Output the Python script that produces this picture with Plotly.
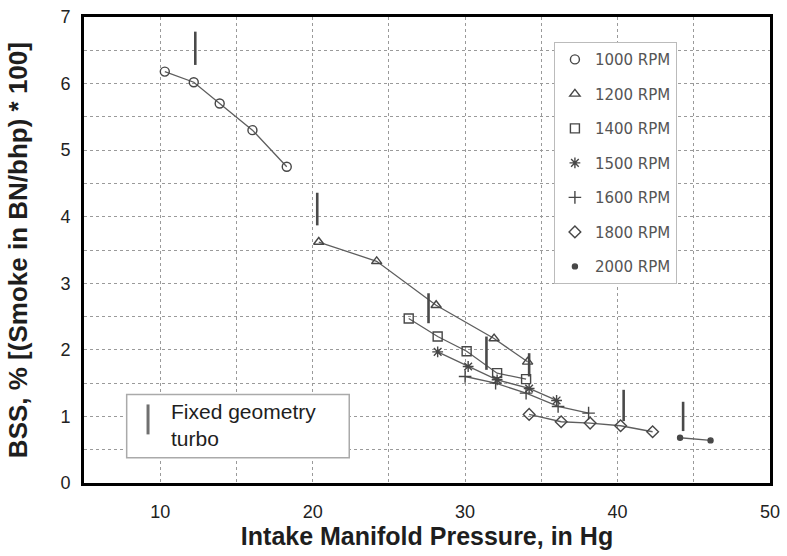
import plotly.graph_objects as go

# Brake specific smoke vs intake manifold pressure, one series per engine speed
rpm_labels = ["1000 RPM", "1200 RPM", "1400 RPM", "1500 RPM", "1600 RPM", "1800 RPM", "2000 RPM"]
symbols = ["circle-open", "triangle-up-open", "square-open", "asterisk-open",
           "cross-thin-open", "diamond-open", "circle"]

imp_1000 = [10.3, 12.2, 13.9, 16.05, 18.3]
bss_1000 = [6.18, 6.02, 5.70, 5.30, 4.75]

imp_1200 = [20.4, 24.2, 28.1, 31.9, 34.1]
bss_1200 = [3.62, 3.33, 2.67, 2.17, 1.82]

imp_1400 = [26.3, 28.2, 30.1, 32.1, 34.0]
bss_1400 = [2.47, 2.20, 1.98, 1.65, 1.56]

imp_1500 = [28.2, 30.2, 32.1, 34.2, 36.0]
bss_1500 = [1.97, 1.75, 1.55, 1.42, 1.24]

imp_1600 = [30.0, 32.0, 34.0, 36.1, 38.1]
bss_1600 = [1.60, 1.50, 1.35, 1.15, 1.05]

imp_1800 = [34.2, 36.3, 38.2, 40.2, 42.3]
bss_1800 = [1.03, 0.92, 0.90, 0.86, 0.77]

imp_2000 = [44.1, 46.1]
bss_2000 = [0.68, 0.64]

# Fixed geometry turbo operating limit markers (x, bottom, top)
turbo_x = [12.3, 20.3, 27.6, 31.4, 34.2, 40.4, 44.3]
turbo_lo = [6.28, 3.87, 2.40, 1.70, 1.60, 0.93, 0.78]
turbo_hi = [6.78, 4.36, 2.85, 2.20, 1.95, 1.40, 1.22]

series_x = [imp_1000, imp_1200, imp_1400, imp_1500, imp_1600, imp_1800, imp_2000]
series_y = [bss_1000, bss_1200, bss_1400, bss_1500, bss_1600, bss_1800, bss_2000]

ink = "#474747"
font_main = "Liberation Sans, Arial"
fig = go.Figure()

# connecting lines (no legend entry)
for xs, ys in zip(series_x, series_y):
    fig.add_trace(go.Scatter(x=xs, y=ys, mode="lines", showlegend=False,
                             line=dict(color="#5e5e5e", width=1.3), hoverinfo="skip"))

# turbo limit bars
bx, by = [], []
for x, lo, hi in zip(turbo_x, turbo_lo, turbo_hi):
    bx += [x, x, None]
    by += [lo, hi, None]
fig.add_trace(go.Scatter(x=bx, y=by, mode="lines", showlegend=False,
                         line=dict(color="#4a4a4a", width=2.6), hoverinfo="skip"))

# markers with legend
for i, (xs, ys) in enumerate(zip(series_x, series_y)):
    size = 5 if symbols[i] == "circle" else 9
    fig.add_trace(go.Scatter(
        x=xs, y=ys, mode="markers", name=rpm_labels[i], legendgroup=rpm_labels[i],
        marker=dict(symbol=symbols[i], size=size, color=ink,
                    line=dict(color=ink, width=1.4)),
    ))

grid = dict(showgrid=True, gridcolor="#9a9a9a", gridwidth=1, griddash="dot",
            zeroline=False, showline=True, linecolor="black", linewidth=3, mirror=True,
            ticks="", automargin=False,
            tickfont=dict(family=font_main, size=18, color="#222"))

fig.update_xaxes(range=[5, 50], tickvals=[10, 20, 30, 40, 50],
                 ticklabelstandoff=10,
                 title=dict(text="<b>Intake Manifold Pressure, in Hg</b>", standoff=6,
                            font=dict(family=font_main, size=25, color="#1e1e1e")),
                 **grid)
fig.update_yaxes(range=[0, 7], tickvals=[0, 1, 2, 3, 4, 5, 6, 7],
                 ticklabelstandoff=7, **grid)
# gridlines every 5 in x / 0.5 in y
fig.update_xaxes(minor=dict(dtick=5, showgrid=True, gridcolor="#9a9a9a", griddash="dot"))
fig.update_yaxes(minor=dict(dtick=0.5, showgrid=True, gridcolor="#9a9a9a", griddash="dot"))

# y-axis title placed close to the page edge
fig.add_annotation(x=-0.096, y=0.5, xref="paper", yref="paper", xanchor="center",
                   yanchor="middle", textangle=-90, showarrow=False,
                   text="<b>BSS, % [(Smoke in BN/bhp) * 100]</b>",
                   font=dict(family=font_main, size=26, color="#1e1e1e"))

# inset key for the turbo bars
fig.add_shape(type="rect", xref="x", yref="y", x0=7.8, x1=22.4, y0=0.38, y1=1.33,
              line=dict(color="#aaaaaa", width=1.5), fillcolor="white", layer="above")
fig.add_shape(type="line", xref="x", yref="y", x0=9.2, x1=9.2, y0=0.73, y1=1.18,
              line=dict(color="#707070", width=3), layer="above")
fig.add_annotation(x=10.6, y=0.87, xref="x", yref="y", xanchor="left", yanchor="middle",
                   text="Fixed geometry<br>turbo", showarrow=False, align="left",
                   font=dict(family=font_main, size=21, color="#1e1e1e"))

fig.update_layout(
    width=787, height=556,
    margin=dict(l=84, r=17, t=17, b=73),
    paper_bgcolor="white", plot_bgcolor="white",
    legend=dict(x=0.685, y=0.946, xanchor="left", yanchor="top",
                bgcolor="white", bordercolor="#bbbbbb", borderwidth=1,
                tracegroupgap=12, itemwidth=30,
                font=dict(family="DejaVu Sans", size=15, color="#555")),
)

fig.write_html("out.html")
